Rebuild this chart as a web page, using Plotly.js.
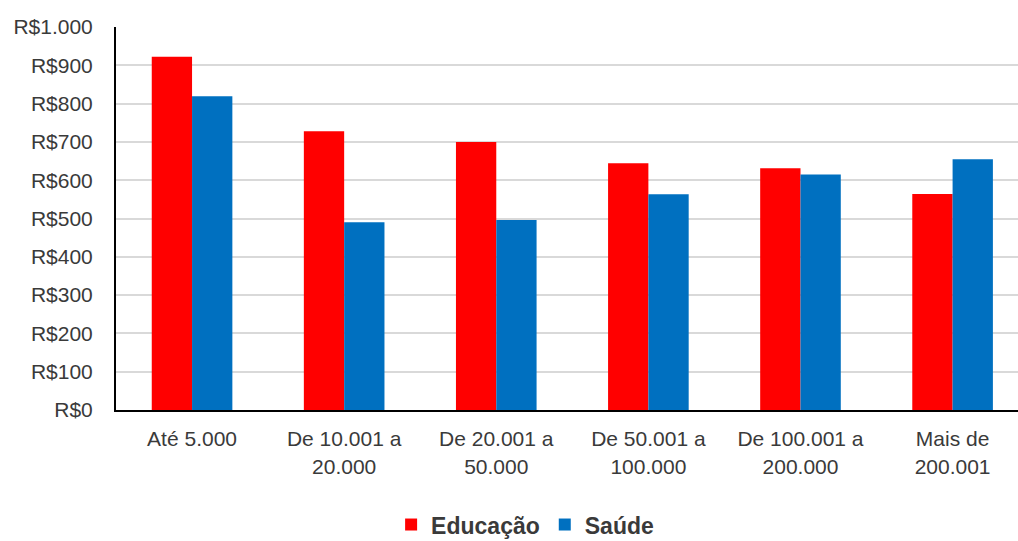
<!DOCTYPE html>
<html><head><meta charset="utf-8">
<script src="https://cdn.plot.ly/plotly-3.0.1.min.js"></script>
<style>html,body{margin:0;padding:0;background:#fff}</style>
</head><body>
<div id="chart" style="width:1018px;height:541px"></div>
<script>
const categories = ["Até 5.000", "De 10.001 a<br>20.000", "De 20.001 a<br>50.000", "De 50.001 a<br>100.000", "De 100.001 a<br>200.000", "Mais de<br>200.001"];
const educacao = [922, 728, 700, 644, 631, 564];
const saude = [819, 490, 496, 563, 615, 655];
const yTickVals = [0, 100, 200, 300, 400, 500, 600, 700, 800, 900, 1000];
const yTickText = ["R$0", "R$100", "R$200", "R$300", "R$400", "R$500", "R$600", "R$700", "R$800", "R$900", "R$1.000"];

const FONT = '"Liberation Sans", Arial, sans-serif';
const data = [
  {type: 'bar', name: 'Educação', x: categories, y: educacao, marker: {color: '#FF0000'}},
  {type: 'bar', name: 'Saúde', x: categories, y: saude, marker: {color: '#0070C0'}}
];
const layout = {
  width: 1018, height: 541,
  margin: {l: 116, r: 0, t: 27, b: 131, pad: 0, autoexpand: false},
  paper_bgcolor: '#fff', plot_bgcolor: '#fff',
  barmode: 'group', bargap: 0.47, bargroupgap: 0,
  font: {family: FONT, size: 21, color: '#3a3a3a'},
  showlegend: true,
  legend: {orientation: 'h', x: 0.305, xanchor: 'left', y: -0.243, yanchor: 'top',
           font: {family: FONT, size: 23, color: '#3a3a3a', weight: 'bold'},
           itemwidth: 30, traceorder: 'normal'},
  xaxis: {range: [-0.5, 5.43], showgrid: false, showline: true, linecolor: '#000', linewidth: 2, automargin: false,
          ticks: '', tickfont: {family: FONT, size: 21, color: '#3a3a3a'}, ticklabelstandoff: 9, fixedrange: true},
  yaxis: {range: [0, 1000], tickvals: yTickVals, ticktext: yTickText, showgrid: true, gridcolor: '#d9d9d9', gridwidth: 2,
          showline: true, linecolor: '#000', linewidth: 2, ticks: '', zeroline: false, automargin: false,
          tickfont: {family: FONT, size: 21, color: '#3a3a3a'}, ticklabelstandoff: 17, fixedrange: true}
};
Plotly.newPlot('chart', data, layout, {displayModeBar: false, staticPlot: true});
</script>
</body></html>
